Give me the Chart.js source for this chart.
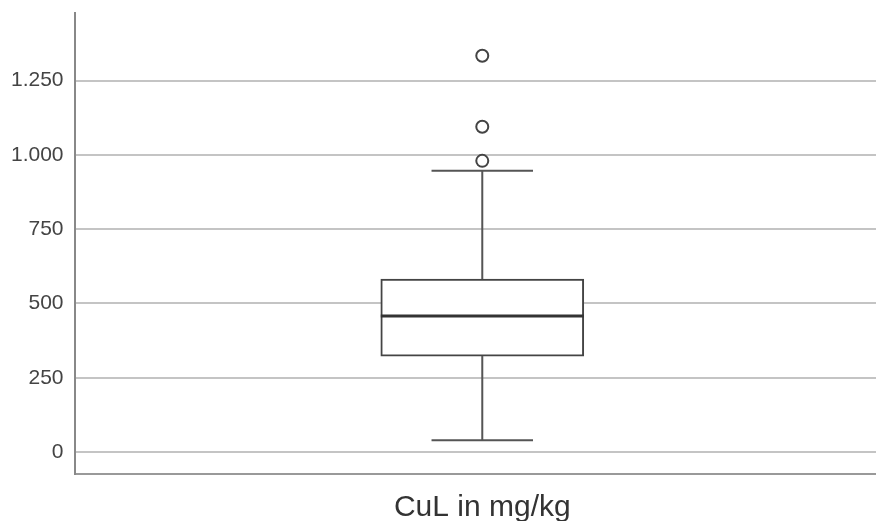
<!DOCTYPE html>
<html>
<head>
<meta charset="utf-8">
<script src="https://cdn.jsdelivr.net/npm/chart.js@4.4.1/dist/chart.umd.min.js"></script>
<style>
  html, body { margin: 0; padding: 0; background: #fff; overflow: hidden; }
  #wrap { width: 898px; height: 537px; margin-top: -11px; }
</style>
</head>
<body>
<div id="wrap"><canvas id="boxChart"></canvas></div>
<script>
const categories = ['CuL in mg/kg'];
// five-number summary: whisker low, Q1, median, Q3, whisker high
const whiskerLow = [40];
const q1 = [323];
const median = [458];
const q3 = [582];
const whiskerHigh = [947];
const outliers = [1334, 1095, 980];
const tickValues = [0, 250, 500, 750, 1000, 1250];

function formatDe(v) {
  return String(v).replace(/\B(?=(\d{3})+(?!\d))/g, '.');
}

// whiskers, caps and median line drawn on top of the box bars
const boxLines = {
  id: 'boxLines',
  afterDatasetsDraw(chart) {
    const ctx = chart.ctx;
    const x = chart.scales.x;
    const y = chart.scales.y;
    const meta = chart.getDatasetMeta(0);
    ctx.save();
    ctx.lineCap = 'butt';
    categories.forEach((c, i) => {
      const bar = meta.data[i];
      const cx = x.getPixelForValue(i);
      const half = bar.width / 2;
      ctx.strokeStyle = '#555';
      ctx.lineWidth = 2;
      ctx.beginPath();
      ctx.moveTo(cx, y.getPixelForValue(q3[i]));
      ctx.lineTo(cx, y.getPixelForValue(whiskerHigh[i]));
      ctx.moveTo(cx, y.getPixelForValue(q1[i]));
      ctx.lineTo(cx, y.getPixelForValue(whiskerLow[i]));
      ctx.moveTo(cx - half / 2, y.getPixelForValue(whiskerHigh[i]));
      ctx.lineTo(cx + half / 2, y.getPixelForValue(whiskerHigh[i]));
      ctx.moveTo(cx - half / 2, y.getPixelForValue(whiskerLow[i]));
      ctx.lineTo(cx + half / 2, y.getPixelForValue(whiskerLow[i]));
      ctx.stroke();
      ctx.strokeStyle = '#333';
      ctx.lineWidth = 3;
      ctx.beginPath();
      ctx.moveTo(cx - half, y.getPixelForValue(median[i]));
      ctx.lineTo(cx + half, y.getPixelForValue(median[i]));
      ctx.stroke();
    });
    ctx.restore();
  }
};

const ctx = document.getElementById('boxChart').getContext('2d');
const boxChart = new Chart(ctx, {
  type: 'bar',
  data: {
    labels: categories,
    datasets: [{
      label: 'Box',
      data: categories.map((c, i) => [q1[i], q3[i]]),
      backgroundColor: '#ffffff',
      borderColor: '#444',
      borderWidth: 2,
      borderSkipped: false,
      barThickness: 203
    }, {
      type: 'line',
      label: 'Ausreißer',
      data: outliers.map(v => ({ x: categories[0], y: v })),
      showLine: false,
      pointRadius: 6,
      pointHoverRadius: 6,
      pointBorderWidth: 2,
      pointBorderColor: '#444',
      pointBackgroundColor: '#ffffff'
    }]
  },
  options: {
    responsive: true,
    maintainAspectRatio: false,
    animation: false,
    layout: { padding: { top: 2, left: 0, right: 0, bottom: -16 } },
    plugins: {
      legend: { display: false },
      tooltip: { enabled: false }
    },
    scales: {
      x: {
        grid: { display: false, drawTicks: false },
        border: { display: true, color: '#999', width: 2 },
        ticks: {
          color: '#333',
          padding: 16,
          font: { family: 'Liberation Sans, Arial, sans-serif', size: 30 }
        }
      },
      y: {
        min: -74,
        max: 1479,
        afterBuildTicks(scale) {
          scale.ticks = tickValues.map(v => ({ value: v }));
        },
        grid: { color: '#c4c4c4', lineWidth: 2, drawTicks: false },
        border: { display: true, color: '#888', width: 2 },
        ticks: {
          color: '#444',
          padding: 11,
          font: { family: 'Liberation Sans, Arial, sans-serif', size: 21 },
          callback: v => formatDe(v)
        }
      }
    }
  },
  plugins: [boxLines]
});
</script>
</body>
</html>
